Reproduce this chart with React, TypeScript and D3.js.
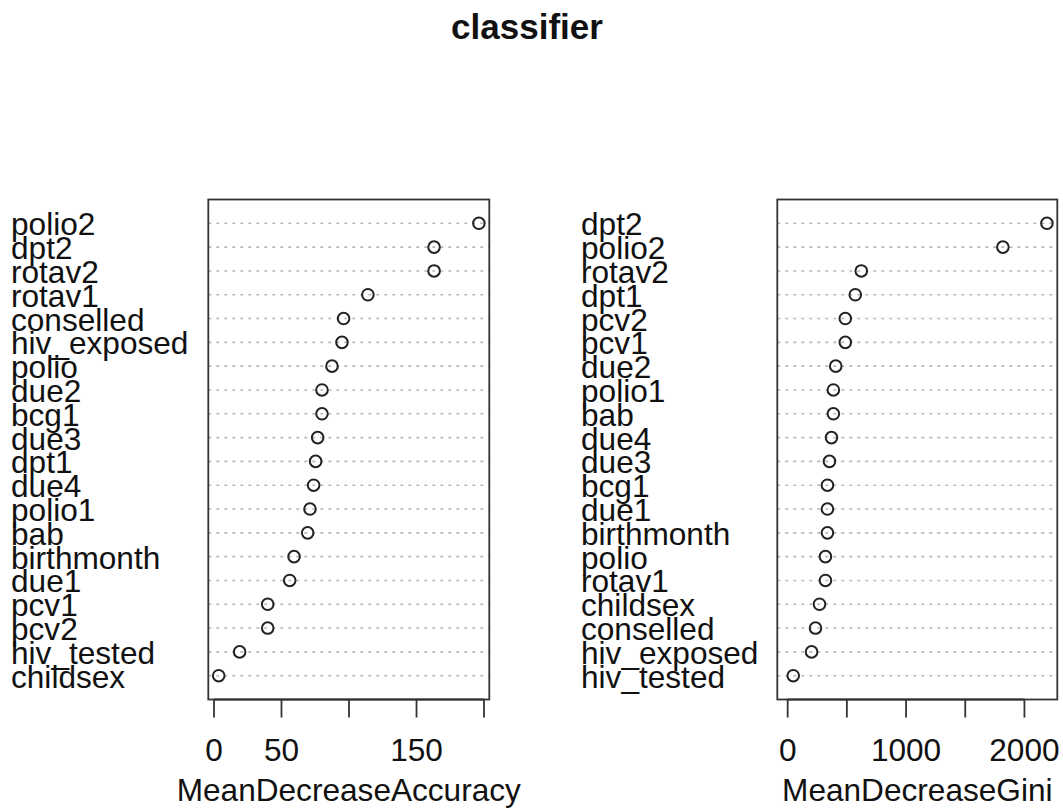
import React, { useEffect, useRef } from 'react';
import * as d3 from 'd3';

// MeanDecreaseAccuracy panel, top row first
const accNames = ['polio2', 'dpt2', 'rotav2', 'rotav1', 'conselled', 'hiv_exposed', 'polio', 'due2', 'bcg1', 'due3',
  'dpt1', 'due4', 'polio1', 'bab', 'birthmonth', 'due1', 'pcv1', 'pcv2', 'hiv_tested', 'childsex'];
const accValues = [196.2, 163, 163, 114, 96, 94.8, 87.4, 80, 80, 76.8,
  75.3, 73.8, 71.1, 69.4, 59.3, 56.1, 39.8, 39.8, 19, 3.5];
const accTicks = [0, 50, 100, 150, 200];
const accTickLabels = ['0', '50', '', '150', ''];

// MeanDecreaseGini panel, top row first
const giniNames = ['dpt2', 'polio2', 'rotav2', 'dpt1', 'pcv2', 'pcv1', 'due2', 'polio1', 'bab', 'due4',
  'due3', 'bcg1', 'due1', 'birthmonth', 'polio', 'rotav1', 'childsex', 'conselled', 'hiv_exposed', 'hiv_tested'];
const giniValues = [2190, 1818, 622, 571, 487, 487, 406, 386, 386, 370,
  353, 336, 336, 336, 319, 319, 269, 235, 202, 47];
const giniTicks = [0, 500, 1000, 1500, 2000];
const giniTickLabels = ['0', '', '1000', '', '2000'];

const FONT = '"Liberation Sans", Arial, sans-serif';
const FS = 31.6;

function drawPanel(svg, opts) {
  const { names, values, ticks, tickLabels, xmin, title, boxLeft, boxRight, labelX } = opts;
  const n = names.length;
  const top = 199.5, bottom = 699.5;
  const lo = xmin === null ? d3.min(values) : xmin;
  const hi = d3.max(values);
  const pad = (hi - lo) * 0.04;
  const x = d3.scaleLinear().domain([lo - pad, hi + pad]).range([boxLeft, boxRight]);
  const y = d3.scaleLinear().domain([0, n + 1]).range([bottom, top]);

  const g = svg.append('g');
  const rows = names.map((name, i) => ({ name, value: values[i], row: n - i }));

  // dotted guide lines
  g.selectAll('line.guide').data(rows).enter().append('line')
    .attr('x1', boxLeft).attr('x2', boxRight)
    .attr('y1', d => y(d.row)).attr('y2', d => y(d.row))
    .attr('stroke', '#b8b8b8').attr('stroke-width', 1.6)
    .attr('stroke-dasharray', '3,5');

  g.selectAll('circle').data(rows).enter().append('circle')
    .attr('cx', d => x(d.value)).attr('cy', d => y(d.row))
    .attr('r', 5.8).attr('fill', 'none')
    .attr('stroke', '#222').attr('stroke-width', 2);

  g.selectAll('text.lab').data(rows).enter().append('text')
    .attr('x', labelX).attr('y', d => y(d.row) + 12)
    .attr('font-size', FS).attr('font-family', FONT).attr('fill', '#111')
    .text(d => d.name);

  g.append('rect')
    .attr('x', boxLeft).attr('y', top)
    .attr('width', boxRight - boxLeft).attr('height', bottom - top)
    .attr('fill', 'none').attr('stroke', '#333').attr('stroke-width', 1.8);

  // bottom axis
  g.selectAll('line.tick').data(ticks).enter().append('line')
    .attr('x1', d => x(d)).attr('x2', d => x(d))
    .attr('y1', bottom).attr('y2', bottom + 18)
    .attr('stroke', '#333').attr('stroke-width', 1.8);
  g.append('line')
    .attr('x1', x(ticks[0])).attr('x2', x(ticks[ticks.length - 1]))
    .attr('y1', bottom).attr('y2', bottom)
    .attr('stroke', '#333').attr('stroke-width', 1.8);

  g.selectAll('text.tl').data(ticks).enter().append('text')
    .attr('x', d => x(d)).attr('y', 761)
    .attr('text-anchor', 'middle')
    .attr('font-size', FS).attr('font-family', FONT).attr('fill', '#111')
    .text((d, i) => tickLabels[i]);

  g.append('text')
    .attr('x', (boxLeft + boxRight) / 2).attr('y', 801)
    .attr('text-anchor', 'middle')
    .attr('font-size', FS).attr('font-family', FONT).attr('fill', '#111')
    .text(title);
}

export default function App() {
  const svgRef = useRef(null);

  useEffect(() => {
    const svg = d3.select(svgRef.current);
    svg.selectAll('*').remove();

    svg.append('rect').attr('width', 1063).attr('height', 812).attr('fill', '#fff');

    svg.append('text')
      .attr('x', 527).attr('y', 38.5)
      .attr('text-anchor', 'middle')
      .attr('font-size', 35).attr('font-weight', 'bold')
      .attr('font-family', FONT).attr('fill', '#111')
      .text('classifier');

    drawPanel(svg, {
      names: accNames, values: accValues, ticks: accTicks, tickLabels: accTickLabels,
      xmin: null, title: 'MeanDecreaseAccuracy', boxLeft: 208.3, boxRight: 489.3, labelX: 11
    });
    drawPanel(svg, {
      names: giniNames, values: giniValues, ticks: giniTicks, tickLabels: giniTickLabels,
      xmin: 0, title: 'MeanDecreaseGini', boxLeft: 777.3, boxRight: 1057.3, labelX: 581
    });
  }, []);

  return (
    <div style={{ position: 'absolute', left: 0, top: 0 }}>
      <svg ref={svgRef} width={1063} height={812} style={{ display: 'block' }}></svg>
    </div>
  );
}
